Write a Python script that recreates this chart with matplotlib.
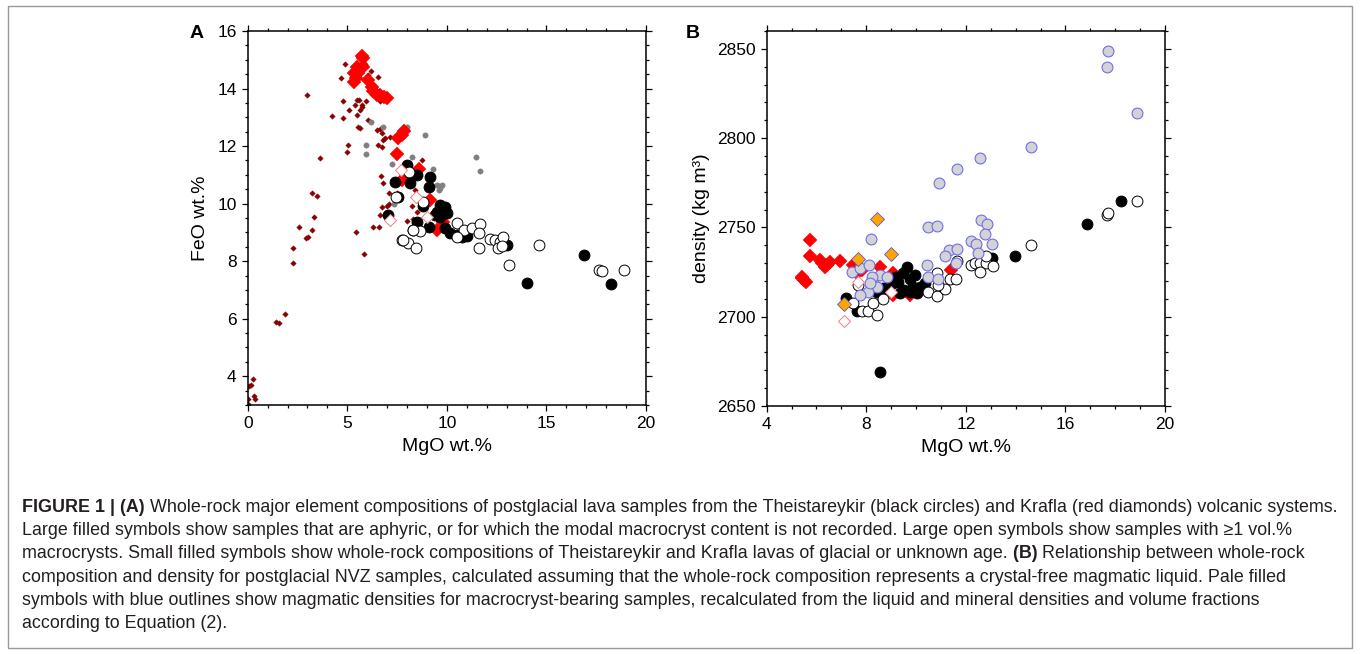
import matplotlib
matplotlib.use("Agg")
import matplotlib.pyplot as plt
import numpy as np
from matplotlib.ticker import MultipleLocator

plt.rcParams['font.family'] = ['Liberation Sans', 'DejaVu Sans']

# ---------------- Panel A data (MgO wt.%, FeO wt.%) ----------------
krafla_glacial_mgo = [0.00, 0.03, 0.08, 0.17, 0.25, 0.32, 0.37, 1.42, 1.56, 1.89, 2.29, 2.29, 2.58, 2.93, 3.05,
                      3.25, 3.35, 3.25, 3.46, 3.61, 2.98, 4.25, 4.68, 4.87, 4.80, 4.80, 5.10, 5.02, 4.97, 5.39,
                      5.47, 5.59, 5.72, 5.64, 5.72, 5.47, 5.56, 5.64, 5.44, 5.84, 6.06, 6.18, 6.06, 6.53, 6.64,
                      6.48, 6.64, 6.73, 6.90, 6.81, 6.56, 6.73, 7.15, 6.71, 6.80, 7.09, 7.12, 6.76, 6.64, 6.31,
                      6.61, 7.98, 8.32, 8.40, 8.25, 8.77, 5.64, 5.90, 5.94, 7.49, 8.49, 6.98]
krafla_glacial_feo = [3.20, 3.03, 3.66, 3.70, 3.90, 3.32, 3.20, 5.90, 5.85, 6.16, 7.92, 8.44, 9.19, 8.81, 8.84,
                      9.10, 9.52, 10.37, 10.25, 11.58, 13.79, 13.05, 14.36, 14.87, 13.56, 12.97, 13.24, 12.03, 11.79, 13.43,
                      13.60, 13.60, 13.43, 13.26, 13.35, 13.09, 12.65, 12.62, 9.00, 8.25, 12.90, 14.62, 14.47, 14.39, 13.55,
                      12.57, 12.60, 12.45, 12.28, 12.20, 12.05, 11.98, 12.33, 10.95, 10.72, 10.37, 9.99, 9.87, 9.62, 9.20,
                      9.17, 9.41, 9.45, 10.49, 9.93, 11.53, 15.20, 14.85, 13.55, 10.38, 9.72, 9.92]

theist_glacial_mgo = [6.18, 5.94, 5.94, 6.81, 7.98, 8.23, 8.90, 7.26, 9.32, 9.49, 9.76, 9.59, 11.46, 11.67, 7.33, 9.66]
theist_glacial_feo = [12.83, 12.03, 11.71, 12.67, 12.66, 11.63, 12.40, 11.39, 11.21, 10.66, 10.64, 10.49, 11.62, 11.12, 9.98, 10.55]

krafla_aphyric_mgo = [5.72, 5.81, 5.51, 5.34, 5.34, 5.56, 5.77, 5.45, 6.06, 6.23, 6.31, 6.48, 6.64, 6.98, 6.85,
                      7.73, 7.56, 7.85, 7.48, 8.59, 7.74, 9.16, 9.50, 9.83]
krafla_aphyric_feo = [15.13, 15.05, 14.76, 14.55, 14.24, 14.53, 14.76, 14.35, 14.30, 14.07, 13.90, 13.78, 13.78, 13.66, 13.70,
                      12.39, 12.28, 12.51, 11.73, 11.21, 10.82, 10.13, 9.08, 9.37]

krafla_phyric_mgo = [7.70, 8.45, 8.99, 7.15]
krafla_phyric_feo = [11.16, 10.23, 9.54, 9.42]

theist_aphyric_mgo = [14.01, 16.89, 18.24, 7.99, 8.16, 8.49, 7.40, 8.16, 9.16, 9.08, 7.57, 7.07, 9.66, 9.91, 9.50,
                      10.00, 9.66, 9.41, 8.49, 9.08, 9.91, 10.17, 10.50, 10.75, 11.00, 13.01, 8.82, 9.82]
theist_aphyric_feo = [7.23, 8.23, 7.20, 11.34, 11.05, 11.00, 10.76, 10.71, 10.94, 10.59, 10.24, 9.60, 9.95, 9.89, 9.72,
                      9.66, 9.55, 9.62, 9.37, 9.20, 9.14, 8.97, 8.91, 8.85, 8.87, 8.56, 9.91, 9.70]

theist_phyric_mgo = [8.12, 7.45, 8.82, 8.28, 7.73, 8.06, 8.44, 8.65, 7.82, 8.32, 10.50, 10.84, 11.26, 11.67, 11.59,
                     11.59, 12.18, 12.43, 12.68, 12.84, 12.59, 12.78, 13.10, 14.65, 17.66, 17.77, 18.90, 10.50]
theist_phyric_feo = [11.09, 10.22, 10.05, 9.07, 8.75, 8.64, 8.44, 9.04, 8.74, 9.08, 9.31, 9.08, 9.14, 9.29, 8.97,
                     8.45, 8.76, 8.74, 8.68, 8.83, 8.45, 8.52, 7.87, 8.56, 7.69, 7.65, 7.69, 8.85]

# ---------------- Panel B data (MgO wt.%, density kg m-3) ----------------
b_red_mgo = [5.74, 5.74, 5.41, 5.58, 5.50, 5.41, 6.14, 6.34, 6.54, 6.95, 6.24, 6.41, 7.45, 7.82, 8.55, 9.09, 9.09, 9.76, 11.39, 7.61]
b_red_rho = [2742.9, 2734.0, 2722.4, 2719.6, 2720.5, 2721.6, 2731.7, 2728.0, 2730.8, 2731.3, 2729.9, 2728.9, 2728.9, 2726.1,
             2728.0, 2724.3, 2712.1, 2712.1, 2726.1, 2724.3]

b_black_mgo = [8.55, 13.97, 16.85, 18.22, 7.17, 7.61, 9.62, 9.46, 9.96, 9.76, 9.29, 8.42, 8.69, 9.36, 9.76, 10.03, 10.16,
               10.36, 9.89, 9.09, 8.89, 13.04, 9.50, 9.20]
b_black_rho = [2668.8, 2734.0, 2751.9, 2764.7, 2710.3, 2703.2, 2728.0, 2724.3, 2723.3, 2720.9, 2719.6, 2714.0, 2715.9,
               2713.1, 2714.0, 2713.1, 2716.8, 2718.7, 2716.8, 2718.7, 2716.8, 2733.0, 2715.0, 2722.0]

b_open_mgo = [7.82, 8.08, 8.42, 8.26, 8.69, 7.45, 10.49, 10.83, 11.16, 10.90, 10.83, 11.36, 11.61, 11.63, 12.19, 12.37,
              12.57, 12.81, 13.08, 12.57, 12.81, 14.62, 17.66, 17.72, 18.89, 7.68]
b_open_rho = [2703.2, 2703.2, 2700.9, 2707.8, 2709.7, 2707.8, 2714.0, 2711.6, 2715.3, 2717.7, 2724.3, 2720.9, 2720.9,
              2731.3, 2728.9, 2729.9, 2729.9, 2729.9, 2728.5, 2724.8, 2733.9, 2740.1, 2756.9, 2758.2, 2764.7, 2717.7]

b_recalc_mgo = [17.72, 17.68, 18.89, 14.62, 12.57, 11.64, 10.94, 10.49, 10.83, 8.18, 12.60, 12.84, 12.78, 13.04, 12.19,
                12.41, 12.47, 11.34, 11.63, 11.16, 11.61, 10.43, 10.46, 10.90, 7.44, 7.75, 8.11, 8.26, 8.55, 8.82,
                8.42, 8.06, 7.75, 8.22, 8.15]
b_recalc_rho = [2848.7, 2839.7, 2814.0, 2795.0, 2788.8, 2782.8, 2774.8, 2750.0, 2750.9, 2743.8, 2753.9, 2751.9, 2746.1,
                2741.0, 2742.2, 2741.0, 2735.8, 2737.3, 2737.7, 2734.0, 2729.9, 2729.1, 2722.4, 2721.1, 2724.8, 2727.1,
                2728.9, 2720.9, 2723.3, 2722.0, 2716.8, 2714.0, 2712.1, 2722.4, 2718.7]

b_orange_mgo = [8.44, 7.68, 8.98, 7.10]
b_orange_rho = [2754.9, 2732.1, 2734.9, 2706.9]

b_openred_mgo = [7.10, 7.68, 8.98]
b_openred_rho = [2697.8, 2719.6, 2714.0]

# ---------------- Figure ----------------
W, H = 1360, 654
fig = plt.figure(figsize=(W / 100, H / 100), dpi=100)


def px_axes(l, r, t, b):
    return fig.add_axes([l / W, 1 - b / H, (r - l) / W, (b - t) / H])


axA = px_axes(247.7, 646, 31, 405)
axB = px_axes(766.7, 1165, 31, 406)

BIG_O = 7.8
BIG_D = 6.8
ew = 0.7


def style(ax):
    for s in ax.spines.values():
        s.set_linewidth(1.1)
    ax.tick_params(which='both', direction='out', top=True, right=True, labelsize=12.5, width=0.9, pad=4)
    ax.tick_params(which='major', length=4)
    ax.tick_params(which='minor', length=2.2)


# Panel A
axA.plot(krafla_glacial_mgo, krafla_glacial_feo, ls='none', marker='D', ms=2.8, mfc='#8B0000', mec='#8B0000', mew=0.3)
axA.plot(theist_glacial_mgo, theist_glacial_feo, ls='none', marker='o', ms=3.9, mfc='#808080', mec='#808080', mew=0.3)
axA.plot(krafla_aphyric_mgo, krafla_aphyric_feo, ls='none', marker='D', ms=BIG_D, mfc='#FF0000', mec='#FF0000', mew=0.3)
axA.plot(theist_aphyric_mgo, theist_aphyric_feo, ls='none', marker='o', ms=BIG_O, mfc='black', mec='black', mew=ew)
axA.plot(theist_phyric_mgo, theist_phyric_feo, ls='none', marker='o', ms=BIG_O, mfc='white', mec='black', mew=ew)
axA.plot(krafla_phyric_mgo, krafla_phyric_feo, ls='none', marker='D', ms=BIG_D * 0.95, mfc='white', mec='#F08080', mew=ew)
axA.set_xlim(0, 20)
axA.set_ylim(3, 16)
axA.xaxis.set_major_locator(MultipleLocator(5))
axA.xaxis.set_minor_locator(MultipleLocator(1))
axA.yaxis.set_major_locator(MultipleLocator(2))
axA.yaxis.set_minor_locator(MultipleLocator(0.5))
style(axA)
axA.set_xlabel('MgO wt.%', fontsize=14, labelpad=5)
axA.set_ylabel('FeO wt.%', fontsize=14, labelpad=6)

# Panel B
axB.plot(b_red_mgo, b_red_rho, ls='none', marker='D', ms=BIG_D, mfc='#FF0000', mec='#FF0000', mew=0.3)
axB.plot(b_black_mgo, b_black_rho, ls='none', marker='o', ms=BIG_O, mfc='black', mec='black', mew=ew)
axB.plot(b_open_mgo, b_open_rho, ls='none', marker='o', ms=BIG_O, mfc='white', mec='black', mew=ew)
axB.plot(b_recalc_mgo, b_recalc_rho, ls='none', marker='o', ms=BIG_O, mfc='#D3D3D3', mec='#6E6EEE', mew=0.8)
axB.plot(b_orange_mgo, b_orange_rho, ls='none', marker='D', ms=BIG_D, mfc='#FFA500', mec='#5A5AD0', mew=0.6)
axB.plot(b_openred_mgo, b_openred_rho, ls='none', marker='D', ms=BIG_D * 0.95, mfc='white', mec='#F08080', mew=ew)
axB.set_xlim(4, 20)
axB.set_ylim(2650, 2860)
axB.xaxis.set_major_locator(MultipleLocator(4))
axB.xaxis.set_minor_locator(MultipleLocator(1))
axB.yaxis.set_major_locator(MultipleLocator(50))
axB.yaxis.set_minor_locator(MultipleLocator(10))
style(axB)
axB.set_xlabel('MgO wt.%', fontsize=14, labelpad=5)
axB.set_ylabel('density (kg m³)', fontsize=14, labelpad=5)

# Panel letters
fig.text(197 / W, 1 - 33 / H, 'A', fontsize=14, fontweight='bold', ha='center', va='center')
fig.text(693 / W, 1 - 33 / H, 'B', fontsize=14, fontweight='bold', ha='center', va='center')

# Caption box
box = plt.Rectangle((8 / W, 6 / H), (1352 - 8) / W, (654 - 12) / H, transform=fig.transFigure,
                    fill=False, edgecolor='#999999', linewidth=1.0)
fig.add_artist(box)

caption_lines = [
    [("FIGURE 1 | (A)", 'bold'), (" Whole-rock major element compositions of postglacial lava samples from the Theistareykir (black circles) and Krafla (red diamonds) volcanic systems.", 'normal')],
    [("Large filled symbols show samples that are aphyric, or for which the modal macrocryst content is not recorded. Large open symbols show samples with ≥1 vol.%", 'normal')],
    [("macrocrysts. Small filled symbols show whole-rock compositions of Theistareykir and Krafla lavas of glacial or unknown age.", 'normal'), (" (B)", 'bold'), (" Relationship between whole-rock", 'normal')],
    [("composition and density for postglacial NVZ samples, calculated assuming that the whole-rock composition represents a crystal-free magmatic liquid. Pale filled", 'normal')],
    [("symbols with blue outlines show magmatic densities for macrocryst-bearing samples, recalculated from the liquid and mineral densities and volume fractions", 'normal')],
    [("according to Equation (2).", 'normal')],
]
line_y = [507, 530.5, 554, 577, 600.5, 624]
cap_x0 = 22
target_w = 1342 - 22

renderer = fig.canvas.get_renderer()


def seg_width(text, weight, fs):
    t = fig.text(0, 0, text.replace(' ', '\u00a0'), fontsize=fs, fontweight=weight)
    w = t.get_window_extent(renderer).width
    t.remove()
    return w


fs0 = 10.0
w0 = sum(seg_width(s, wt, fs0) for s, wt in caption_lines[0])
cap_fs = fs0 * target_w / w0

for segs, yy in zip(caption_lines, line_y):
    x = cap_x0
    for s, wt in segs:
        s2 = s.replace(' ', '\u00a0')
        fig.text(x / W, 1 - yy / H, s2, fontsize=cap_fs, fontweight=wt, ha='left', va='center', color='#231f20')
        x += seg_width(s, wt, cap_fs)

fig.savefig('out.png', dpi=100)
